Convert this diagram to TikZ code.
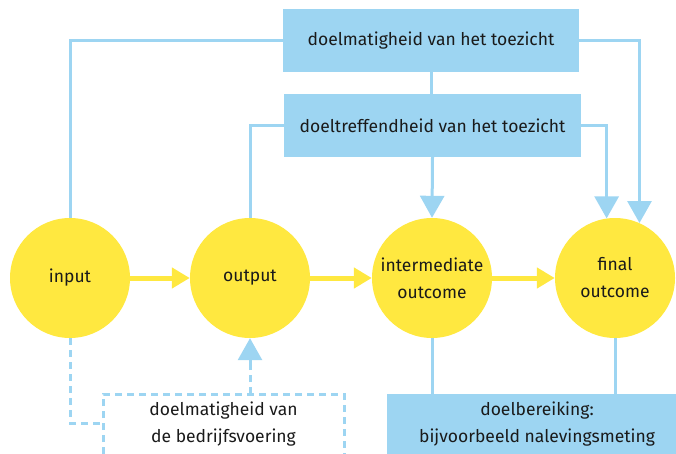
\documentclass[tikz,border=0pt]{standalone}
\usepackage{fontspec}
\setmainfont{Fira Sans}
\usetikzlibrary{arrows.meta,calc}
\definecolor{lblue}{HTML}{9DD5F2}
\definecolor{yel}{HTML}{FFE840}
\definecolor{txt}{HTML}{1A1A1A}
\begin{document}
\begin{tikzpicture}[x=1pt,y=-1pt,
  font=\fontsize{17.5}{27}\selectfont, text=txt,
  circ/.style={circle, fill=yel, minimum size=120pt, inner sep=0pt, align=center},
  bbox/.style={fill=lblue, inner sep=0pt, align=center},
  conn/.style={draw=lblue, line width=3pt},
  bluearrow/.style={conn, -{Triangle[width=24pt,length=22pt]}},
  yarrow/.style={draw=yel, line width=5pt, -{Triangle[width=20pt,length=18pt]}},
  dashconn/.style={draw=lblue, line width=3pt, dash pattern=on 7pt off 5pt}
]
\useasboundingbox (0,0) rectangle (676,454);
% circles
\node[circ] (input) at (70,278) {input};
\node[circ] (output) at (250,278) {output};
\node[circ] (inter) at (432,278) {intermediate\\outcome};
\node[circ] (final) at (615,278) {final\\outcome};
% top boxes
\node[bbox, minimum width=296pt, minimum height=63pt] (tl) at (431,40.5) {doelmatigheid van het toezicht};
\node[bbox, minimum width=297pt, minimum height=63pt] (tr) at (432.5,125.5) {doeltreffendheid van het toezicht};
% bottom right box
\node[bbox, minimum width=289pt, minimum height=60pt] (br) at (531.5,424) {};
\node[align=center, inner sep=0pt] (brtext) at (537,424) {doelbereiking:\\bijvoorbeeld nalevingsmeting};
% bottom left text
\node[align=center, inner sep=0pt] (bl) at (223.5,424) {doelmatigheid van\\de bedrijfsvoering};
\coordinate (blA) at (103,454);
\coordinate (blB) at (344,394);
\coordinate (blC) at (344,454);
\coordinate (blTop) at (250,394);
\coordinate (blJoin) at (103,423);
% yellow arrows
\draw[yarrow] (input.east) -- (output.west);
\draw[yarrow] (output.east) -- (inter.west);
\draw[yarrow] (inter.east) -- (final.west);
% blue connectors
\draw[conn] (tl.south) -- (tl.south |- tr.north);
\draw[conn] (tl.west) -| (input.north);
\draw[conn] (tr.west) -| (output.north);
\draw[bluearrow] (tr.south) -- (inter.north);
\draw[bluearrow] (tr.east) -| (final.98.6);
\draw[bluearrow] (tl.east) -| (final.66.4);
\draw[conn] (inter.south) -- (inter.south |- br.north);
\draw[conn] (final.south) -- (final.south |- br.north);
% dashed
\draw[dashconn] (blA) |- (blB) -- (blC);
\draw[dashconn] (input.south) |- (blJoin);
\draw[dashconn] (blTop) -- ([yshift=-25pt]output.south);
\draw[bluearrow, shorten <=-1pt] ([yshift=-27pt]output.south) -- (output.south);
\end{tikzpicture}
\end{document}
